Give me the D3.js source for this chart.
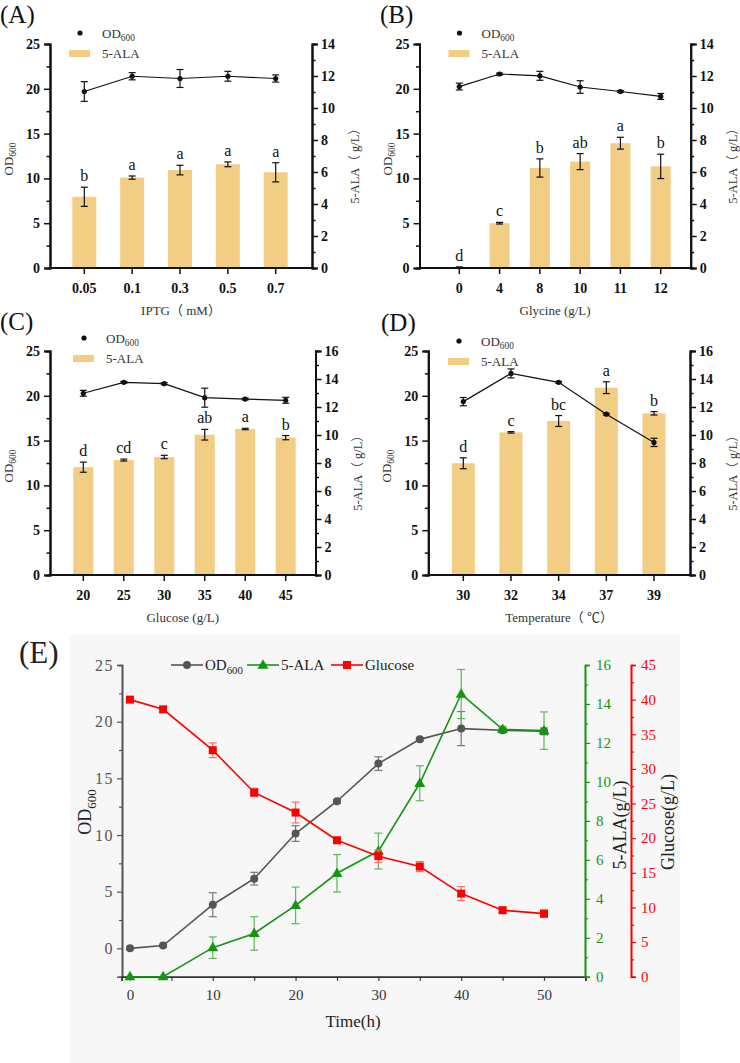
<!DOCTYPE html>
<html>
<head>
<meta charset="utf-8">
<script src="https://d3js.org/d3.v7.min.js"></script>
<style>
body { margin: 0; background: #fff; }
svg text { font-family: "Liberation Serif", "Times New Roman", "Noto Sans CJK SC", serif; }
</style>
</head>
<body>
<svg id="fig" width="740" height="1063"></svg>
<script>
// (A) IPTG
const iptgLevels = ["0.05", "0.1", "0.3", "0.5", "0.7"];
const iptgAla = [4.45, 5.65, 6.12, 6.48, 5.98];
const iptgAlaErr = [0.6, 0.1, 0.3, 0.15, 0.6];
const iptgOd = [19.7, 21.4, 21.15, 21.4, 21.15];
const iptgOdErr = [1.1, 0.4, 1.0, 0.55, 0.4];
const iptgLetters = ["b", "a", "a", "a", "a"];

// (B) Glycine
const glyLevels = ["0", "4", "8", "10", "11", "12"];
const glyAla = [0.05, 2.8, 6.25, 6.65, 7.8, 6.35];
const glyAlaErr = [0.02, 0.05, 0.57, 0.5, 0.37, 0.76];
const glyOd = [20.25, 21.65, 21.45, 20.2, 19.7, 19.15];
const glyOdErr = [0.38, 0.1, 0.5, 0.7, 0.1, 0.33];
const glyLetters = ["d", "c", "b", "ab", "a", "b"];

// (C) Glucose
const gluLevels = ["20", "25", "30", "35", "40", "45"];
const gluAla = [7.7, 8.21, 8.43, 10.02, 10.43, 9.81];
const gluAlaErr = [0.36, 0.07, 0.12, 0.38, 0.05, 0.15];
const gluOd = [20.28, 21.5, 21.35, 19.79, 19.64, 19.5];
const gluOdErr = [0.33, 0.1, 0.1, 1.06, 0.1, 0.33];
const gluLetters = ["d", "cd", "c", "ab", "a", "b"];

// (D) Temperature
const tempLevels = ["30", "32", "34", "37", "39"];
const tempAla = [7.98, 10.19, 11.0, 13.38, 11.55];
const tempAlaErr = [0.39, 0.05, 0.39, 0.42, 0.12];
const tempOd = [19.35, 22.5, 21.5, 17.95, 14.8];
const tempOdErr = [0.46, 0.5, 0.1, 0.1, 0.46];
const tempLetters = ["d", "c", "bc", "a", "b"];

// (E) fermentation time course
const timeH = [0, 4, 10, 15, 20, 25, 30, 35, 40, 45, 50];
const fermOd = [0.0, 0.25, 3.85, 6.15, 10.13, 12.98, 16.3, 18.44, 19.39, 19.24, 19.15];
const fermOdErr = [0.1, 0.1, 1.06, 0.56, 0.69, 0.15, 0.6, 0.15, 1.5, 0.2, 0.3];
const fermAla = [0, 0, 1.49, 2.22, 3.66, 5.31, 6.45, 9.93, 14.51, 12.7, 12.63];
const fermAlaErr = [0, 0, 0.55, 0.86, 0.94, 0.96, 0.92, 0.9, 1.26, 0.15, 0.96];
const fermGlc = [40.0, 38.6, 32.7, 26.6, 23.7, 19.7, 17.4, 15.9, 12.0, 9.6, 9.1];
const fermGlcErr = [0.3, 0.4, 1.06, 0.6, 1.5, 0.3, 0.9, 0.72, 1.0, 0.4, 0.5];

const barColor = "#f1ce84";
const svg = d3.select("#fig");

function subText(sel, main, sub, size) {
  sel.append("tspan").text(main);
  sel.append("tspan").attr("font-size", size * 0.72).attr("dy", size * 0.25).text(sub);
}

function barPanel(p) {
  const g = svg.append("g");
  const x = d3.scalePoint().domain(p.levels).range(p.xr);
  const yOd = d3.scaleLinear().domain([0, 25]).range([p.bottom, p.top]);
  const yAla = d3.scaleLinear().domain([0, p.alaMax]).range([p.bottom, p.top]);

  // bars
  g.selectAll(".bar").data(p.levels).join("rect")
    .attr("x", d => x(d) - p.barW / 2).attr("width", p.barW)
    .attr("y", (d, i) => yAla(p.ala[i]))
    .attr("height", (d, i) => p.bottom - yAla(p.ala[i]))
    .attr("fill", barColor);

  // error bars
  function errBars(vals, errs, y) {
    p.levels.forEach((d, i) => {
      const cx = x(d), y1 = y(vals[i] + errs[i]), y2 = y(vals[i] - errs[i]);
      g.append("line").attr("x1", cx).attr("x2", cx).attr("y1", y1).attr("y2", y2);
      g.append("line").attr("x1", cx - 3.5).attr("x2", cx + 3.5).attr("y1", y1).attr("y2", y1);
      g.append("line").attr("x1", cx - 3.5).attr("x2", cx + 3.5).attr("y1", y2).attr("y2", y2);
    });
  }
  errBars(p.ala, p.alaErr, yAla);

  // letters
  g.selectAll(".let").data(p.letters).join("text")
    .attr("x", (d, i) => x(p.levels[i]))
    .attr("y", (d, i) => yAla(p.ala[i] + p.alaErr[i]) - 6)
    .attr("text-anchor", "middle").attr("font-size", 16).attr("fill", "#111")
    .text(d => d);

  // OD line
  const line = d3.line().x((d, i) => x(p.levels[i])).y(d => yOd(d));
  g.append("path").datum(p.od).attr("d", line).attr("fill", "none")
    .attr("stroke", "#111").attr("stroke-width", 1.2);
  errBars(p.od, p.odErr, yOd);
  g.selectAll(".dot").data(p.od).join("circle")
    .attr("cx", (d, i) => x(p.levels[i])).attr("cy", d => yOd(d)).attr("r", 2.6).attr("fill", "#111");
  g.selectAll("line").attr("stroke", "#111").attr("stroke-width", 1.2);

  // axes
  const ax = svg.append("g").attr("font-weight", "bold");
  ax.append("g").attr("transform", `translate(${p.left},0)`)
    .call(d3.axisLeft(yOd).tickValues([0, 5, 10, 15, 20, 25]).tickSize(6).tickPadding(4));
  ax.append("g").attr("transform", `translate(${p.left},0)`)
    .call(d3.axisLeft(yOd).tickValues([2.5, 7.5, 12.5, 17.5, 22.5]).tickSize(3.5).tickFormat(""));
  const majR = d3.range(0, p.alaMax + 1, 2);
  const minR = d3.range(1, p.alaMax, 2);
  ax.append("g").attr("transform", `translate(${p.right},0)`)
    .call(d3.axisRight(yAla).tickValues(majR).tickSize(6).tickPadding(3));
  ax.append("g").attr("transform", `translate(${p.right},0)`)
    .call(d3.axisRight(yAla).tickValues(minR).tickSize(3.5).tickFormat(""));
  const bot = ax.append("g").attr("transform", `translate(0,${p.bottom})`);
  bot.append("line").attr("x1", p.left).attr("x2", p.right).attr("stroke", "#111").attr("stroke-width", 2);
  bot.selectAll(".xt").data(p.levels).join("line")
    .attr("x1", d => x(d)).attr("x2", d => x(d)).attr("y1", 0).attr("y2", 6)
    .attr("stroke", "#111").attr("stroke-width", 1.5);
  bot.selectAll(".xl").data(p.levels).join("text")
    .attr("x", d => x(d)).attr("y", 25).attr("text-anchor", "middle").text(d => d);
  ax.selectAll(".domain").attr("stroke", "#111").attr("stroke-width", 2);
  ax.selectAll(".tick line").attr("stroke", "#111").attr("stroke-width", 1.5);
  ax.selectAll("text").attr("font-size", 14).attr("fill", "#111")
    .attr("font-family", "'Liberation Serif', serif");

  // titles
  svg.append("text").attr("x", (p.left + p.right) / 2).attr("y", p.bottom + 47)
    .attr("text-anchor", "middle").attr("font-size", 13).attr("fill", "#333").text(p.xTitle);
  const cy = (p.top + p.bottom) / 2 + 3;
  const odT = svg.append("text").attr("transform", `translate(${p.odX},${cy}) rotate(-90)`)
    .attr("text-anchor", "middle").attr("font-size", 13).attr("fill", "#333");
  subText(odT, "OD", "600", 13);
  svg.append("text").attr("transform", `translate(${p.alaX},${cy + 4}) rotate(-90)`)
    .attr("text-anchor", "middle").attr("font-size", 12.5).attr("fill", "#333")
    .attr("dy", "0.35em").text("5-ALA（ g/L）");

  // legend
  svg.append("circle").attr("cx", p.legX + 11).attr("cy", p.legY).attr("r", 2.6).attr("fill", "#111");
  const l1 = svg.append("text").attr("x", p.legX + 33).attr("y", p.legY + 4.5)
    .attr("font-size", 13).attr("fill", "#333");
  subText(l1, "OD", "600", 13);
  svg.append("rect").attr("x", p.legX).attr("y", p.legY + 17).attr("width", 21).attr("height", 7)
    .attr("fill", barColor);
  svg.append("text").attr("x", p.legX + 33).attr("y", p.legY + 25)
    .attr("font-size", 13).attr("fill", "#333").text("5-ALA");

  // panel tag
  svg.append("text").attr("x", p.tagX).attr("y", p.tagY).attr("font-size", 25).attr("fill", "#111").text(p.tag);
}

barPanel({ tag: "(A)", tagX: 0, tagY: 23, levels: iptgLevels, ala: iptgAla, alaErr: iptgAlaErr,
  od: iptgOd, odErr: iptgOdErr, letters: iptgLetters, left: 50, right: 312, top: 44, bottom: 268,
  xr: [84.3, 275.7], barW: 24, alaMax: 14, xTitle: "IPTG（ mM）", odX: 13, alaX: 355, legX: 69, legY: 33 });
barPanel({ tag: "(B)", tagX: 380, tagY: 23, levels: glyLevels, ala: glyAla, alaErr: glyAlaErr,
  od: glyOd, odErr: glyOdErr, letters: glyLetters, left: 419.5, right: 690.7, top: 44, bottom: 268,
  xr: [459.3, 660.7], barW: 20, alaMax: 14, xTitle: "Glycine (g/L)", odX: 392, alaX: 733, legX: 448.5, legY: 33 });
barPanel({ tag: "(C)", tagX: 0, tagY: 330, levels: gluLevels, ala: gluAla, alaErr: gluAlaErr,
  od: gluOd, odErr: gluOdErr, letters: gluLetters, left: 50, right: 315.5, top: 351, bottom: 575,
  xr: [83.3, 285.7], barW: 20, alaMax: 16, xTitle: "Glucose (g/L)", odX: 13, alaX: 358, legX: 73, legY: 338 });
barPanel({ tag: "(D)", tagX: 381, tagY: 331, levels: tempLevels, ala: tempAla, alaErr: tempAlaErr,
  od: tempOd, odErr: tempOdErr, letters: tempLetters, left: 428.3, right: 690, top: 351, bottom: 575,
  xr: [463.3, 654], barW: 23, alaMax: 16, xTitle: "Temperature（ ℃）", odX: 391, alaX: 733, legX: 448, legY: 341 });

// ---------- (E) ----------
const E = { left: 122, green: 585, red: 631, top: 665, bottom: 976.7 };
svg.append("rect").attr("x", 70).attr("y", 635).attr("width", 610).attr("height", 428).attr("fill", "#f7f7f7");
svg.append("text").attr("x", 19).attr("y", 663).attr("font-size", 31).attr("fill", "#222").text("(E)");

const tx = d3.scaleLinear().domain([-1, 55]).range([121.7, 585.4]);
const yL = d3.scaleLinear().domain([-2.5, 25]).range([E.bottom, E.top]);
const yG = d3.scaleLinear().domain([0, 16]).range([E.bottom, E.top]);
const yR = d3.scaleLinear().domain([0, 45]).range([E.bottom, E.top]);

const gray = "#555", green = "#139613", red = "#ff0000";

function axisStyle(g, color, size, spacing) {
  g.select(".domain").attr("stroke", color).attr("stroke-width", 1.6);
  g.selectAll(".tick line").attr("stroke", color).attr("stroke-width", 1.2);
  g.selectAll("text").attr("fill", color).attr("font-size", size)
    .attr("font-family", "'Liberation Serif', serif").attr("letter-spacing", spacing || 0);
}

const gl = svg.append("g").attr("transform", `translate(${E.left},0)`)
  .call(d3.axisLeft(yL).tickValues([0, 5, 10, 15, 20, 25]).tickSize(5).tickPadding(3));
axisStyle(gl, gray, 16, 1.5);
const gl2 = svg.append("g").attr("transform", `translate(${E.left},0)`)
  .call(d3.axisLeft(yL).tickValues([2.5, 7.5, 12.5, 17.5, 22.5]).tickSize(3).tickFormat(""));
axisStyle(gl2, gray, 16);

const gb = svg.append("g").attr("transform", `translate(0,${E.bottom})`)
  .call(d3.axisBottom(tx).tickValues([0, 10, 20, 30, 40, 50]).tickSize(4).tickPadding(9));
axisStyle(gb, "#333", 15);
const gb2 = svg.append("g").attr("transform", `translate(0,${E.bottom})`)
  .call(d3.axisBottom(tx).tickValues([5, 15, 25, 35, 45]).tickSize(4).tickFormat(""));
axisStyle(gb2, "#333", 15);

const gg = svg.append("g").attr("transform", `translate(${E.green},0)`)
  .call(d3.axisRight(yG).tickValues(d3.range(0, 17, 2)).tickSize(5).tickPadding(6));
axisStyle(gg, green, 15);
const gg2 = svg.append("g").attr("transform", `translate(${E.green},0)`)
  .call(d3.axisRight(yG).tickValues(d3.range(1, 16, 2)).tickSize(3).tickFormat(""));
axisStyle(gg2, green, 15);

const gr = svg.append("g").attr("transform", `translate(${E.red},0)`)
  .call(d3.axisRight(yR).tickValues(d3.range(0, 46, 5)).tickSize(5).tickPadding(5));
axisStyle(gr, red, 15);
const gr2 = svg.append("g").attr("transform", `translate(${E.red},0)`)
  .call(d3.axisRight(yR).tickValues(d3.range(2.5, 45, 5)).tickSize(3).tickFormat(""));
axisStyle(gr2, red, 15);

// axis titles
const eOd = svg.append("text").attr("transform", "translate(91,812) rotate(-90)")
  .attr("text-anchor", "middle").attr("font-size", 18).attr("fill", "#222");
subText(eOd, "OD", "600", 18);
svg.append("text").attr("transform", "translate(620,825) rotate(-90)").attr("dy", "0.35em")
  .attr("text-anchor", "middle").attr("font-size", 18).attr("fill", "#222").text("5-ALA(g/L)");
svg.append("text").attr("transform", "translate(668,822) rotate(-90)").attr("dy", "0.35em")
  .attr("text-anchor", "middle").attr("font-size", 18).attr("fill", "#222").text("Glucose(g/L)");
svg.append("text").attr("x", 353).attr("y", 1027).attr("text-anchor", "middle")
  .attr("font-size", 17).attr("fill", "#222").text("Time(h)");

function marker(g, kind, cx, cy, color) {
  if (kind === "circle") g.append("circle").attr("cx", cx).attr("cy", cy).attr("r", 4).attr("fill", color);
  else if (kind === "square") g.append("rect").attr("x", cx - 4).attr("y", cy - 4).attr("width", 8).attr("height", 8).attr("fill", color);
  else g.append("path").attr("d", d3.symbol(d3.symbolTriangle, 52)()).attr("transform", `translate(${cx},${cy + 0.5})`).attr("fill", color);
}

function series(vals, errs, y, color, errColor, kind) {
  const g = svg.append("g");
  timeH.forEach((t, i) => {
    if (errs[i] <= 0) return;
    const cx = tx(t), y1 = y(vals[i] + errs[i]), y2 = y(vals[i] - errs[i]);
    g.append("line").attr("x1", cx).attr("x2", cx).attr("y1", y1).attr("y2", y2);
    g.append("line").attr("x1", cx - 4).attr("x2", cx + 4).attr("y1", y1).attr("y2", y1);
    g.append("line").attr("x1", cx - 4).attr("x2", cx + 4).attr("y1", y2).attr("y2", y2);
  });
  g.selectAll("line").attr("stroke", errColor).attr("stroke-width", 1.2);
  g.append("path").datum(vals)
    .attr("d", d3.line().x((d, i) => tx(timeH[i])).y(d => y(d)))
    .attr("fill", "none").attr("stroke", color).attr("stroke-width", 1.6);
  vals.forEach((v, i) => marker(g, kind, tx(timeH[i]), y(v), color));
}

series(fermOd, fermOdErr, yL, gray, "#777", "circle");
series(fermAla, fermAlaErr, yG, green, "#5cb85c", "triangle");
series(fermGlc, fermGlcErr, yR, red, "#ff6a6a", "square");

// legend
const legE = [
  { name: "OD", sub: "600", color: gray, kind: "circle", x: 171 },
  { name: "5-ALA", sub: "", color: green, kind: "triangle", x: 247 },
  { name: "Glucose", sub: "", color: red, kind: "square", x: 331 }
];
legE.forEach(d => {
  const g = svg.append("g");
  g.append("line").attr("x1", d.x).attr("x2", d.x + 32).attr("y1", 665).attr("y2", 665)
    .attr("stroke", d.color).attr("stroke-width", 1.6);
  marker(g, d.kind, d.x + 16, 665, d.color);
  const t = g.append("text").attr("x", d.x + 34).attr("y", 670).attr("font-size", 15).attr("fill", "#222");
  if (d.sub) subText(t, d.name, d.sub, 15); else t.text(d.name);
});
</script>
</body>
</html>
